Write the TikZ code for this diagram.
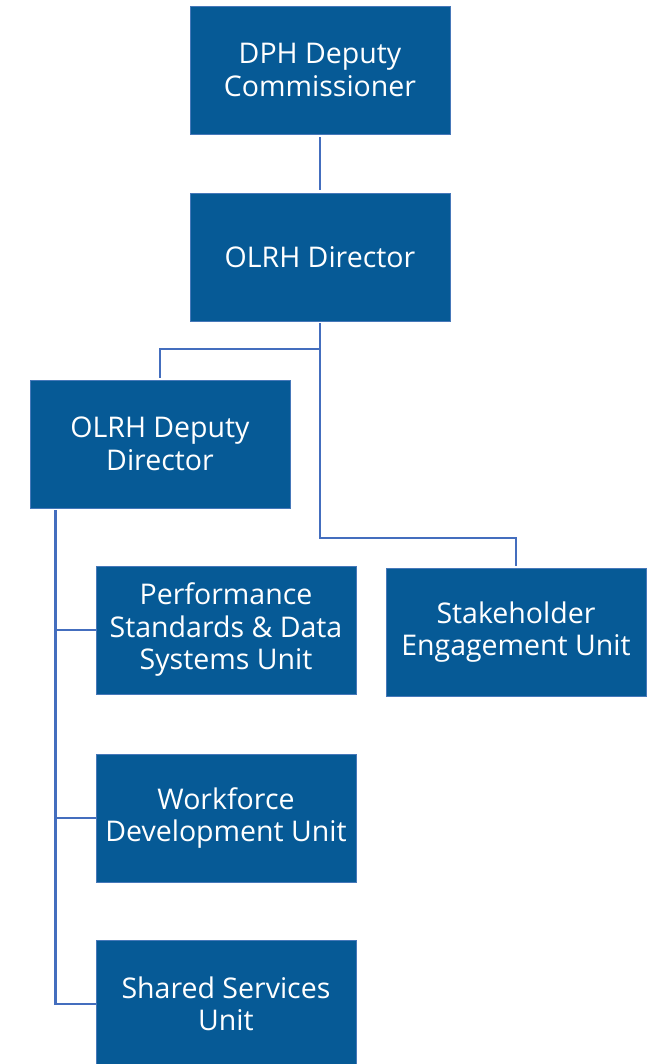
\documentclass[tikz,border=0pt]{standalone}
\usepackage{fontspec}
\setmainfont{Open Sans}
\usetikzlibrary{calc}
\definecolor{boxblue}{RGB}{6,90,150}
\definecolor{boxedge}{RGB}{70,120,185}
\definecolor{linkblue}{RGB}{68,110,190}
\begin{document}
\begin{tikzpicture}[x=1pt,y=-1pt,
  unit/.style={draw=boxedge, line width=0.8pt, fill=boxblue, text=white, align=center,
    minimum width=260pt, minimum height=128pt, inner sep=0pt,
    font=\fontsize{28.5}{32.5}\selectfont},
  link/.style={draw=linkblue, line width=2.8pt}]
\useasboundingbox (0,0) rectangle (653,1064);
\clip (0,0) rectangle (653,1064);
\node[unit] (dph) at (320,70) {DPH Deputy\\Commissioner};
\node[unit] (dir) at (320,257) {OLRH Director};
\node[unit] (dep) at (160,444) {OLRH Deputy\\Director};
\node[unit] (perf) at (226,630) {Performance\\Standards \& Data\\Systems Unit};
\node[unit] (stake) at (516,632) {Stakeholder\\Engagement Unit};
\node[unit] (work) at (226,818) {Workforce\\Development Unit};
\node[unit] (shared) at (226,1004) {Shared Services\\Unit};
\coordinate (split) at (320,349);
\coordinate (depbus) at ($(dep.south west)+(26,2)$);
\draw[link] ($(dph.south)+(0,3)$) -- ($(dir.north)+(0,-3)$);
\draw[link] ($(dir.south)+(0,2)$) -- (split) -| ($(dep.north)+(0,-2)$);
\draw[link] (split) |- (320,538) -| ($(stake.north)+(0,-2)$);
\draw[link] (depbus) |- (shared.west);
\draw[link] (depbus |- perf.west) -- (perf.west);
\draw[link] (depbus |- work.west) -- (work.west);
\end{tikzpicture}
\end{document}
